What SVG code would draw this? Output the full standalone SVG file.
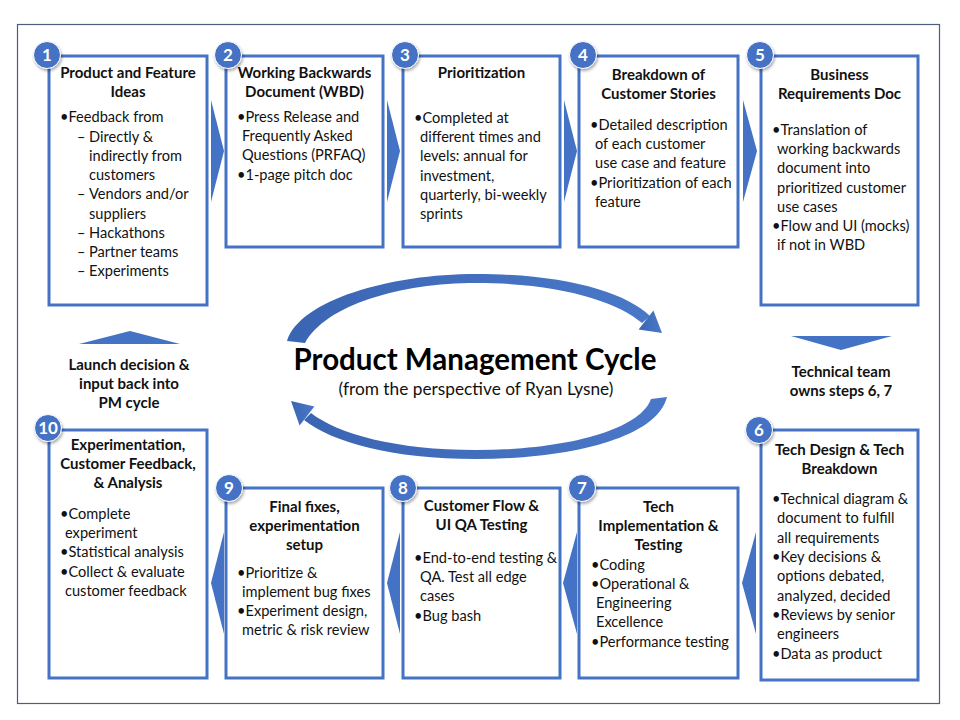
<svg xmlns="http://www.w3.org/2000/svg" width="960" height="720" viewBox="0 0 960 720">
<defs>
<style>
.box{fill:#fff;stroke:#4472C4;stroke-width:3}
.num{fill:#4472C4;stroke:#ffffff;stroke-width:1}
.nt{font-family:Lato,"Liberation Sans",sans-serif;font-weight:bold;font-size:17px;fill:#fff;text-anchor:middle}
.t{font-family:Lato,"Liberation Sans",sans-serif;font-weight:bold;font-size:15px;fill:#111;text-anchor:middle}
.b{font-family:Lato,"Liberation Sans",sans-serif;font-size:14.6px;fill:#111}
.lbl{font-family:Lato,"Liberation Sans",sans-serif;font-weight:bold;font-size:15px;fill:#111;text-anchor:middle}
.chev{fill:#4472C4}
.arc{fill:url(#ag)}
</style>
<linearGradient id="ag" x1="0" y1="0" x2="1" y2="0">
<stop offset="0" stop-color="#3A65B3"/>
<stop offset="1" stop-color="#4A78C8"/>
</linearGradient>
<filter id="sh" x="-50%" y="-50%" width="200%" height="200%">
<feDropShadow dx="1" dy="2" stdDeviation="1.5" flood-color="#000" flood-opacity="0.35"/>
</filter>
</defs>
<rect x="0" y="0" width="960" height="720" fill="#fff"/>
<rect x="17.5" y="24.5" width="922" height="679" fill="none" stroke="#4A5E80" stroke-width="1.2"/>

<g id="connectors">
<polygon class="chev" points="211,100 224,151 211,202"/>
<polygon class="chev" points="387,100 400,151 387,202"/>
<polygon class="chev" points="564,100 577,151 564,202"/>
<polygon class="chev" points="743,100 757,151 743,202"/>
<polygon class="chev" points="756,532 742,583 756,634"/>
<polygon class="chev" points="577,532 563,583 577,634"/>
<polygon class="chev" points="400,532 387,583 400,634"/>
<polygon class="chev" points="224,532 211,583 224,634"/>
<polygon class="chev" points="79,344 180,344 130,331"/>
<polygon class="chev" points="791,336 892,336 841,350"/>
<path class="arc" d="M287,341 C300,300 390,274 476,274 C565,274 625,292 650,316 L642,323 C618,302 560,283 476,283 C400,283 326,305 305,343 Z"/>
<polygon class="arc" points="653.4,310.6 638.6,329.4 662,333"/>
<path class="arc" d="M667,397 C657,438 570,459 476,459 C392,459 332,442 304,420 L311,413 C338,434 396,450 476,450 C566,450 640,430 651,399 Z"/>
<polygon class="arc" points="314.4,406.6 299.6,425.4 291,401"/>
</g>

<g id="title">
<text x="475" y="370" font-family="Lato,'Liberation Sans',sans-serif" font-weight="bold" font-size="29.5" text-anchor="middle" fill="#000">Product Management Cycle</text>
<text x="476" y="395" font-family="Lato,'Liberation Sans',sans-serif" font-size="17.3" text-anchor="middle" fill="#111">(from the perspective of Ryan Lysne)</text>
</g>

<g id="label-launch">
<text class="lbl" x="129" y="370">Launch decision &amp;</text>
<text class="lbl" x="129" y="389">input back into</text>
<text class="lbl" x="129" y="408">PM cycle</text>
</g>
<g id="label-technical">
<text class="lbl" x="841" y="377">Technical team</text>
<text class="lbl" x="841" y="396">owns steps 6, 7</text>
</g>

<g id="node1">
<rect class="box" x="49" y="56" width="158" height="249"/>
<circle class="num" cx="47" cy="55" r="13.5" filter="url(#sh)"/>
<text class="nt" x="47" y="61">1</text>
<text class="t" x="128" y="78">Product and Feature</text>
<text class="t" x="128" y="97">Ideas</text>
<text class="b" x="60" y="122">•Feedback from</text>
<text class="b" x="77" y="141.5">–</text><text class="b" x="89" y="141.5">Directly &amp;</text>
<text class="b" x="89" y="160.5">indirectly from</text>
<text class="b" x="89" y="180">customers</text>
<text class="b" x="77" y="199">–</text><text class="b" x="89" y="199">Vendors and/or</text>
<text class="b" x="89" y="218.5">suppliers</text>
<text class="b" x="77" y="237.5">–</text><text class="b" x="89" y="237.5">Hackathons</text>
<text class="b" x="77" y="257">–</text><text class="b" x="89" y="257">Partner teams</text>
<text class="b" x="77" y="276">–</text><text class="b" x="89" y="276">Experiments</text>
</g>

<g id="node2">
<rect class="box" x="226" y="56" width="157" height="191"/>
<circle class="num" cx="228" cy="55" r="13.5" filter="url(#sh)"/>
<text class="nt" x="228" y="61">2</text>
<text class="t" x="304.5" y="78">Working Backwards</text>
<text class="t" x="304.5" y="97">Document (WBD)</text>
<text class="b" x="237" y="122">•Press Release and</text>
<text class="b" x="242" y="141">Frequently Asked</text>
<text class="b" x="242" y="160">Questions (PRFAQ)</text>
<text class="b" x="237" y="180">•1-page pitch doc</text>
</g>

<g id="node3">
<rect class="box" x="403" y="56" width="157" height="191"/>
<circle class="num" cx="405" cy="55" r="13.5" filter="url(#sh)"/>
<text class="nt" x="405" y="61">3</text>
<text class="t" x="481.5" y="78">Prioritization</text>
<text class="b" x="414" y="123">•Completed at</text>
<text class="b" x="420" y="142">different times and</text>
<text class="b" x="420" y="161">levels: annual for</text>
<text class="b" x="420" y="181">investment,</text>
<text class="b" x="420" y="200">quarterly, bi-weekly</text>
<text class="b" x="420" y="219">sprints</text>
</g>

<g id="node4">
<rect class="box" x="579" y="56" width="159" height="191"/>
<circle class="num" cx="583" cy="55" r="13.5" filter="url(#sh)"/>
<text class="nt" x="583" y="61">4</text>
<text class="t" x="658.5" y="80">Breakdown of</text>
<text class="t" x="658.5" y="99">Customer Stories</text>
<text class="b" x="590" y="130">•Detailed description</text>
<text class="b" x="595" y="149">of each customer</text>
<text class="b" x="595" y="168">use case and feature</text>
<text class="b" x="590" y="188">•Prioritization of each</text>
<text class="b" x="595" y="207">feature</text>
</g>

<g id="node5">
<rect class="box" x="761" y="56" width="157" height="249"/>
<circle class="num" cx="760" cy="55" r="13.5" filter="url(#sh)"/>
<text class="nt" x="760" y="61">5</text>
<text class="t" x="839.5" y="80">Business</text>
<text class="t" x="839.5" y="99">Requirements Doc</text>
<text class="b" x="772" y="135">•Translation of</text>
<text class="b" x="777" y="154">working backwards</text>
<text class="b" x="777" y="173">document into</text>
<text class="b" x="777" y="193">prioritized customer</text>
<text class="b" x="777" y="212">use cases</text>
<text class="b" x="772" y="231">•Flow and UI (mocks)</text>
<text class="b" x="777" y="250">if not in WBD</text>
</g>

<g id="node6">
<rect class="box" x="761" y="430" width="157" height="250"/>
<circle class="num" cx="759" cy="430" r="13.5" filter="url(#sh)"/>
<text class="nt" x="759" y="436">6</text>
<text class="t" x="839.5" y="455">Tech Design &amp; Tech</text>
<text class="t" x="839.5" y="474">Breakdown</text>
<text class="b" x="772" y="504">•Technical diagram &amp;</text>
<text class="b" x="777" y="523">document to fulfill</text>
<text class="b" x="777" y="543">all requirements</text>
<text class="b" x="772" y="562">•Key decisions &amp;</text>
<text class="b" x="777" y="581">options debated,</text>
<text class="b" x="777" y="601">analyzed, decided</text>
<text class="b" x="772" y="620">•Reviews by senior</text>
<text class="b" x="777" y="639">engineers</text>
<text class="b" x="772" y="659">•Data as product</text>
</g>

<g id="node7">
<rect class="box" x="579" y="488" width="159" height="190"/>
<circle class="num" cx="582" cy="488" r="13.5" filter="url(#sh)"/>
<text class="nt" x="582" y="494">7</text>
<text class="t" x="658.5" y="512">Tech</text>
<text class="t" x="658.5" y="531">Implementation &amp;</text>
<text class="t" x="658.5" y="550">Testing</text>
<text class="b" x="591" y="570">•Coding</text>
<text class="b" x="591" y="589">•Operational &amp;</text>
<text class="b" x="596" y="608">Engineering</text>
<text class="b" x="596" y="627">Excellence</text>
<text class="b" x="591" y="647">•Performance testing</text>
</g>

<g id="node8">
<rect class="box" x="403" y="488" width="157" height="190"/>
<circle class="num" cx="403" cy="488" r="13.5" filter="url(#sh)"/>
<text class="nt" x="403" y="494">8</text>
<text class="t" x="481.5" y="511">Customer Flow &amp;</text>
<text class="t" x="481.5" y="530">UI QA Testing</text>
<text class="b" x="414" y="563">•End-to-end testing &amp;</text>
<text class="b" x="420" y="582">QA. Test all edge</text>
<text class="b" x="420" y="601">cases</text>
<text class="b" x="414" y="621">•Bug bash</text>
</g>

<g id="node9">
<rect class="box" x="226" y="488" width="157" height="190"/>
<circle class="num" cx="229" cy="488" r="13.5" filter="url(#sh)"/>
<text class="nt" x="229" y="494">9</text>
<text class="t" x="304.5" y="512">Final fixes,</text>
<text class="t" x="304.5" y="531">experimentation</text>
<text class="t" x="304.5" y="550">setup</text>
<text class="b" x="237" y="578">•Prioritize &amp;</text>
<text class="b" x="242" y="597">implement bug fixes</text>
<text class="b" x="237" y="616">•Experiment design,</text>
<text class="b" x="242" y="635">metric &amp; risk review</text>
</g>

<g id="node10">
<rect class="box" x="49" y="430" width="158" height="248"/>
<circle class="num" cx="48" cy="428" r="13.5" filter="url(#sh)"/>
<text class="nt" x="48" y="434">10</text>
<text class="t" x="128" y="450">Experimentation,</text>
<text class="t" x="128" y="469">Customer Feedback,</text>
<text class="t" x="128" y="488">&amp; Analysis</text>
<text class="b" x="60" y="519">•Complete</text>
<text class="b" x="65" y="538">experiment</text>
<text class="b" x="60" y="557">•Statistical analysis</text>
<text class="b" x="60" y="577">•Collect &amp; evaluate</text>
<text class="b" x="65" y="596">customer feedback</text>
</g>
</svg>
